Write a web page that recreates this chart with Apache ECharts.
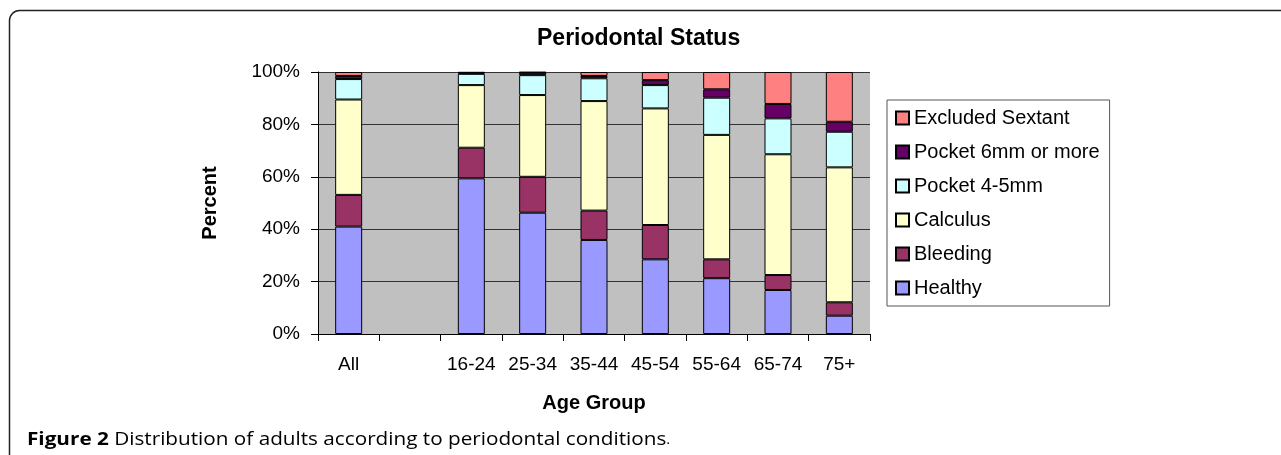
<!DOCTYPE html>
<html>
<head>
<meta charset="utf-8">
<script src="https://cdn.jsdelivr.net/npm/echarts@6/dist/echarts.min.js"></script>
<style>
  html, body { margin: 0; padding: 0; background: #fff; }
  #chart { width: 1281px; height: 455px; }
</style>
</head>
<body>
<div id="chart"></div>
<script>
// age groups, with an empty slot between "All" and the age bands
var categories = ["All", "", "16-24", "25-34", "35-44", "45-54", "55-64", "65-74", "75+"];
// percent of sextants
var healthy  = [41.0, null, 59.4, 46.3, 35.9, 28.5, 21.3, 16.8, 7.0];
var bleeding = [12.1, null, 11.7, 13.7, 11.2, 13.1, 7.2, 5.7, 5.1];
var calculus = [36.4, null, 23.9, 31.2, 41.8, 44.5, 47.5, 46.1, 51.5];
var pocket45 = [7.8, null, 4.3, 7.6, 8.7, 8.9, 14.2, 13.7, 13.6];
var pocket6  = [1.2, null, 0.4, 1.0, 0.9, 1.9, 3.2, 5.5, 3.8];
var excluded = [1.5, null, 0.3, 0.2, 1.5, 3.1, 6.6, 12.2, 19.0];
var yTicks = [0, 20, 40, 60, 80, 100];

var chart = echarts.init(document.getElementById("chart"));

var font = "Liberation Sans, Arial, sans-serif";
var captionFont = "Open Sans, Noto Sans, sans-serif";

function bar(name, data, color) {
  return {
    name: name,
    type: "bar",
    stack: "total",
    barWidth: 27,
    data: data,
    itemStyle: { color: color, borderColor: "#000", borderWidth: 1 },
    emphasis: { disabled: true }
  };
}

var option = {
  animation: false,
  backgroundColor: "#fff",
  textStyle: { fontFamily: font },
  title: {
    text: "Periodontal Status",
    left: 532,
    top: 22,
    textStyle: { fontFamily: font, fontSize: 23, fontWeight: "bold", color: "#000" }
  },
  grid: { left: 318, right: 411, top: 72, bottom: 121, show: true, backgroundColor: "#c0c0c0", borderWidth: 0 },
  legend: {
    orient: "vertical",
    left: 887,
    top: 100,
    width: 218,
    padding: [8, 10, 8, 8],
    itemGap: 14,
    itemWidth: 13,
    itemHeight: 13,
    itemTextGap: 5,
    borderColor: "#555",
    borderWidth: 1,
    icon: "rect",
    data: ["Excluded Sextant", "Pocket 6mm or more", "Pocket 4-5mm", "Calculus", "Bleeding", "Healthy"],
    textStyle: { fontFamily: font, fontSize: 20, color: "#000", lineHeight: 20 }
  },
  xAxis: {
    type: "category",
    data: categories,
    name: "Age Group",
    nameLocation: "middle",
    nameGap: 59,
    nameTextStyle: { fontFamily: font, fontSize: 20, fontWeight: "bold", color: "#000" },
    axisLine: { show: true, lineStyle: { color: "#000", width: 1 } },
    axisTick: { show: true, length: 7, lineStyle: { color: "#000" } },
    axisLabel: { margin: 21, fontFamily: font, fontSize: 19, color: "#000", interval: 0 },
    splitLine: { show: false }
  },
  yAxis: {
    type: "value",
    min: 0,
    max: 100,
    interval: 20,
    name: "Percent",
    nameLocation: "middle",
    nameGap: 98,
    nameTextStyle: { fontFamily: font, fontSize: 20, fontWeight: "bold", color: "#000" },
    axisLine: { show: true, lineStyle: { color: "#000", width: 1 } },
    axisTick: { show: true, length: 7, lineStyle: { color: "#000" } },
    axisLabel: {
      margin: 18,
      fontFamily: font,
      fontSize: 19,
      color: "#000",
      formatter: function (v) { return yTicks.indexOf(v) >= 0 ? v + "%" : ""; }
    },
    splitLine: { show: true, lineStyle: { color: "#333", width: 1 } }
  },
  series: [
    bar("Healthy", healthy, "#9999ff"),
    bar("Bleeding", bleeding, "#993366"),
    bar("Calculus", calculus, "#ffffcc"),
    bar("Pocket 4-5mm", pocket45, "#ccffff"),
    bar("Pocket 6mm or more", pocket6, "#660066"),
    bar("Excluded Sextant", excluded, "#ff8080")
  ],
  graphic: [
    {
      type: "rect",
      silent: true,
      shape: { x: 9.5, y: 10.5, width: 1320, height: 520, r: 10 },
      style: { fill: "none", stroke: "#222", lineWidth: 1.5 }
    },
    {
      type: "text",
      x: 27,
      y: 440,
      scaleX: 1.15,
      silent: true,
      style: {
        text: "{b|Figure 2} Distribution of adults according to periodontal conditions{s|.}",
        fontFamily: captionFont,
        fontSize: 18,
        fill: "#000",
        verticalAlign: "middle",
        rich: {
          b: { fontFamily: captionFont, fontSize: 18, fontWeight: "bold", fill: "#000" },
          s: { fontFamily: captionFont, fontSize: 13, fill: "#000" }
        }
      }
    }
  ]
};

chart.setOption(option);
</script>
</body>
</html>
